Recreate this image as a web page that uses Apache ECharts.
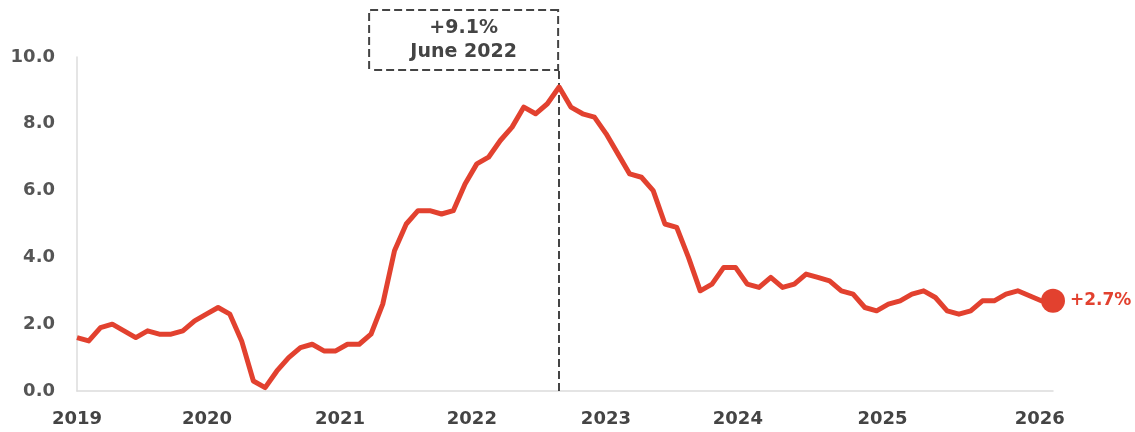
<!DOCTYPE html>
<html>
<head>
<meta charset="utf-8">
<script src="https://cdn.jsdelivr.net/npm/echarts@6/dist/echarts.min.js"></script>
<style>html,body{margin:0;padding:0;background:#fff;}#c{width:1135px;height:432px;}</style>
</head>
<body>
<div id="c"></div>
<script>
// Monthly CPI YoY %, Jan 2019 .. Dec 2025 (Oct 2025 not published)
const months = [];
for (let y = 2019; y <= 2025; y++) for (let m = 1; m <= 12; m++) months.push(y + '-' + String(m).padStart(2, '0'));
const cpi2019 = [1.6, 1.5, 1.9, 2.0, 1.8, 1.6, 1.8, 1.7, 1.7, 1.8, 2.1, 2.3];
const cpi2020 = [2.5, 2.3, 1.5, 0.3, 0.1, 0.6, 1.0, 1.3, 1.4, 1.2, 1.2, 1.4];
const cpi2021 = [1.4, 1.7, 2.6, 4.2, 5.0, 5.4, 5.4, 5.3, 5.4, 6.2, 6.8, 7.0];
const cpi2022 = [7.5, 7.9, 8.5, 8.3, 8.6, 9.1, 8.5, 8.3, 8.2, 7.7, 7.1, 6.5];
const cpi2023 = [6.4, 6.0, 5.0, 4.9, 4.0, 3.0, 3.2, 3.7, 3.7, 3.2, 3.1, 3.4];
const cpi2024 = [3.1, 3.2, 3.5, 3.4, 3.3, 3.0, 2.9, 2.5, 2.4, 2.6, 2.7, 2.9];
const cpi2025 = [3.0, 2.8, 2.4, 2.3, 2.4, 2.7, 2.7, 2.9, 3.0, null, 2.7, 2.7];
const cpiValues = [].concat(cpi2019, cpi2020, cpi2021, cpi2022, cpi2023, cpi2024, cpi2025);

const yearLabels = ['2019', '2020', '2021', '2022', '2023', '2024', '2025', '2026'];
const yearLabelPos = [0, 11.05, 22.36, 33.58, 44.98, 56.2, 68.5, 81.87];
const yTicks = [0, 2, 4, 6, 8, 10];

const peakIndex = 41;       // June 2022
const peakValue = 9.1;
const peakText = ['+9.1%', 'June 2022'];
const lastIndex = cpiValues.length - 1;
const lastValue = 2.7;
const lastText = '+2.7%';

const RED = '#e2412f';
const FONT = 'DejaVu Sans';

const seriesData = cpiValues.map((v, i) => [i, v]);

const chart = echarts.init(document.getElementById('c'), null, { renderer: 'canvas' });
chart.setOption({
  animation: false,
  backgroundColor: '#ffffff',
  grid: { left: 77, right: 82, top: 57, bottom: 41, containLabel: false },
  xAxis: {
    type: 'value',
    min: 0,
    max: lastIndex,
    splitLine: { show: false },
    axisTick: { show: false },
    axisLine: { show: true, lineStyle: { color: '#dcdcdc', width: 1.5 } },
    axisLabel: {
      customValues: yearLabelPos,
      margin: 19,
      color: '#444444',
      fontFamily: FONT,
      fontWeight: 'bold',
      fontSize: 18,
      formatter: function (v) {
        let best = 0, d = 1e9;
        yearLabelPos.forEach((p, i) => { if (Math.abs(p - v) < d) { d = Math.abs(p - v); best = i; } });
        return yearLabels[best];
      }
    }
  },
  yAxis: {
    type: 'value',
    min: yTicks[0],
    max: yTicks[yTicks.length - 1],
    interval: 2,
    splitLine: { show: false },
    axisTick: { show: false },
    axisLine: { show: true, lineStyle: { color: '#dcdcdc', width: 1.5 } },
    axisLabel: {
      margin: 22,
      color: '#555555',
      fontFamily: FONT,
      fontWeight: 'bold',
      fontSize: 18,
      formatter: v => v.toFixed(1)
    }
  },
  series: [{
    type: 'line',
    data: seriesData,
    connectNulls: true,
    showSymbol: false,
    clip: false,
    lineStyle: { color: RED, width: 5, join: 'round' },
    itemStyle: { color: RED },
    z: 3,
    markLine: {
      silent: true,
      symbol: 'none',
      z: 2,
      lineStyle: { color: '#444444', width: 2, type: [8, 4] },
      label: { show: false },
      data: [[{ coord: [peakIndex, 0] }, { coord: [peakIndex, 9.58] }]]
    },
    markPoint: {
      silent: true,
      data: [
        {
          coord: [peakIndex, peakValue],
          symbol: 'circle',
          symbolSize: 1,
          itemStyle: { color: 'rgba(0,0,0,0)' },
          label: {
            show: true,
            position: 'inside',
            offset: [-95.5, -47],
            width: 187,
            height: 48,
            padding: [5, 0, 5, 0],
            align: 'center',
            verticalAlign: 'middle',
            backgroundColor: '#ffffff',
            borderColor: '#444444',
            borderWidth: 2,
            borderType: [8, 4],
            formatter: peakText.join('\n'),
            color: '#444444',
            fontFamily: FONT,
            fontWeight: 'bold',
            fontSize: 19,
            lineHeight: 24
          }
        },
        {
          coord: [lastIndex, lastValue],
          symbol: 'circle',
          symbolSize: 24,
          itemStyle: { color: RED },
          label: {
            show: true,
            position: 'right',
            distance: 5,
            formatter: lastText,
            color: RED,
            fontFamily: FONT,
            fontWeight: 'bold',
            fontSize: 17
          }
        }
      ]
    }
  }]
});
</script>
</body>
</html>
